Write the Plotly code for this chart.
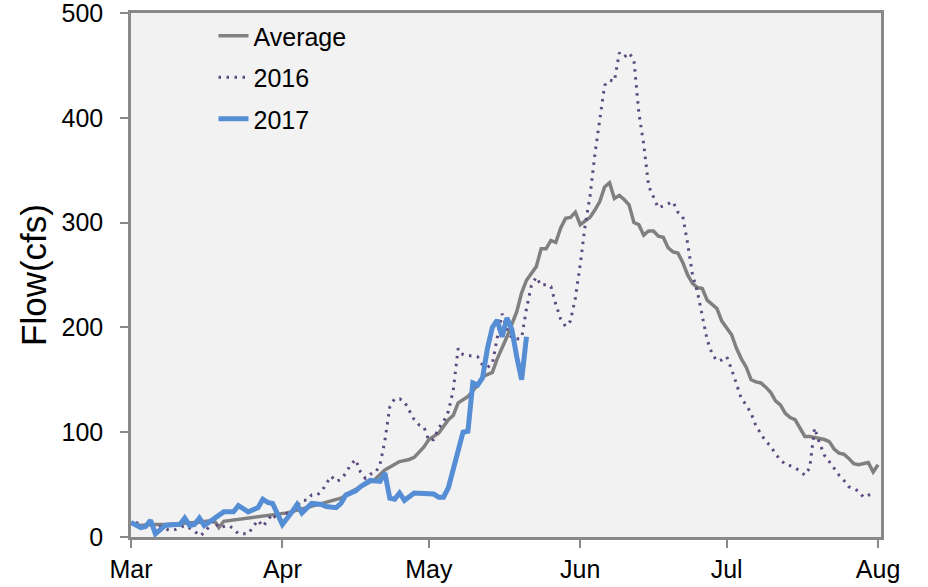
import pandas as pd
import plotly.graph_objects as go

# ---- data (day offset from 1 March, flow in cfs) ----
avg_days = [0, 2, 4, 7, 10, 14, 17, 18, 19, 22, 25, 28, 32, 36, 40, 43, 45, 48, 50, 52,
            55, 57, 58, 60, 61, 63, 65, 66, 67, 69, 71, 72, 74, 75, 77, 79, 80, 81, 83, 84,
            85, 86, 87, 88, 89, 90, 91, 92, 94, 95, 96, 97, 98, 99, 100, 101, 102, 103, 104, 105,
            106, 107, 108, 109, 110, 111, 112, 113, 114, 115, 116, 117, 118, 119, 120, 121, 122, 123, 124, 125,
            126, 127, 128, 129, 130, 131, 132, 133, 134, 135, 136, 137, 138, 139, 140, 141, 142, 143, 144, 145,
            146, 147, 148, 149, 150, 151, 152, 153]
avg_flow = [13, 11, 12, 12, 13, 14, 16, 9, 15, 17, 19, 21, 23, 28, 33, 37, 43, 50, 55, 64,
            72, 74, 76, 86, 93, 99, 112, 116, 128, 134, 145, 153, 157, 170, 191, 215, 233, 245, 258, 275,
            275, 283, 281, 295, 304, 305, 310, 298, 305, 312, 320, 334, 338, 323, 326, 322, 317, 300, 298, 288,
            292, 292, 287, 286, 276, 272, 271, 262, 250, 242, 238, 237, 226, 222, 218, 206, 199, 193, 180, 170,
            162, 150, 148, 147, 143, 138, 130, 126, 118, 114, 112, 104, 96, 96, 95, 94, 93, 91, 84, 80,
            79, 75, 70, 69, 70, 71, 62, 69]

y2016_days = [1, 3, 6, 8, 9, 11, 13, 14, 15, 16, 17, 18, 20, 21, 22, 24, 25, 26, 27, 28,
              29, 30, 32, 33, 35, 36, 37, 38, 39, 40, 41, 42, 43, 44, 45, 46, 47, 48, 49, 50,
              51, 52, 53, 54, 55, 56, 57, 58, 59, 60, 61, 62, 63, 64, 65, 66, 67, 68, 69, 70,
              71, 72, 73, 74, 75, 76, 77, 78, 79, 80, 81, 82, 83, 84, 85, 86, 87, 88, 89, 90,
              91, 92, 93, 94, 95, 96, 97, 98, 99, 100, 101, 102, 103, 104, 105, 106, 107, 108, 109, 110,
              111, 112, 113, 114, 115, 116, 117, 118, 119, 120, 121, 122, 123, 124, 125, 126, 127, 128, 129, 130,
              131, 132, 133, 134, 135, 136, 137, 138, 139, 140, 141, 142, 143, 144, 145, 146, 147, 148, 149, 150,
              151, 152]
y2016_flow = [14, 10, 10, 6, 7, 11, 6, 1, 4, 10, 16, 9, 11, 8, 3, 3, 9, 16, 10, 16,
              22, 16, 23, 24, 35, 35, 40, 40, 43, 51, 58, 53, 55, 61, 69, 74, 62, 56, 60, 61,
              69, 92, 124, 132, 132, 129, 120, 112, 107, 105, 92, 93, 104, 110, 120, 140, 180, 174, 173, 173,
              172, 164, 162, 165, 190, 213, 198, 190, 189, 190, 218, 240, 248, 240, 241, 239, 222, 208, 201, 206,
              228, 260, 297, 325, 365, 400, 431, 436, 435, 462, 458, 462, 455, 405, 375, 335, 325, 314, 316, 318,
              320, 310, 306, 280, 250, 234, 210, 188, 175, 168, 169, 172, 160, 145, 132, 126, 118, 106, 98, 91,
              87, 79, 74, 69, 68, 66, 63, 59, 66, 104, 90, 78, 72, 65, 59, 54, 48, 46, 44, 38,
              40, 41]

y2017_days = [0, 2, 3, 4, 5, 7, 9, 10, 11, 12, 13, 14, 15, 16, 18, 19, 21, 22, 24, 26,
              27, 28, 29, 31, 33, 34, 35, 37, 39, 40, 42, 43, 44, 46, 47, 49, 51, 52, 53, 54,
              55, 56, 58, 60, 62, 63, 64, 65, 66, 67, 68, 69, 70, 71, 72, 73, 74, 75, 76, 77,
              78, 79, 80, 81]
y2017_flow = [14, 9, 10, 16, 3, 11, 12, 12, 18, 11, 12, 18, 11, 14, 21, 24, 24, 30, 24, 28,
              36, 33, 32, 12, 24, 31, 23, 32, 31, 29, 28, 32, 40, 44, 48, 54, 53, 61, 37, 36,
              42, 35, 42, 42, 41, 38, 38, 47, 64, 83, 100, 101, 147, 145, 152, 180, 200, 207, 191, 209,
              198, 172, 150, 191]

series_names = ["Average", "2016", "2017"]
month_ticks = ["2017-03-01", "2017-04-01", "2017-05-01", "2017-06-01", "2017-07-01", "2017-08-01"]
month_labels = ["Mar", "Apr", "May", "Jun", "Jul", "Aug"]
y_ticks = [0, 100, 200, 300, 400, 500]

base = pd.Timestamp("2017-03-01")


def to_dates(days):
    return [base + pd.Timedelta(days=d) for d in days]


FONT = "Liberation Sans, Arial, sans-serif"
AXIS_GRAY = "#898989"

fig = go.Figure()
fig.add_trace(go.Scatter(x=to_dates(avg_days), y=avg_flow, name=series_names[0], mode="lines",
                         legendgroup="a", line=dict(color="#808080", width=3.5)))
fig.add_trace(go.Scatter(x=to_dates(y2016_days), y=y2016_flow, name=series_names[1], mode="lines",
                         legendgroup="b", line=dict(color="#5E4A80", width=3, dash="2.5px,5.5px")))
fig.add_trace(go.Scatter(x=to_dates(y2017_days), y=y2017_flow, name=series_names[2], mode="lines",
                         legendgroup="c", line=dict(color="#558ED5", width=5)))

fig.update_layout(
    width=928, height=587,
    margin=dict(l=131, r=47, t=13, b=50),
    paper_bgcolor="white",
    plot_bgcolor="#F2F2F2",
    font=dict(family=FONT, size=25, color="black"),
    showlegend=True,
    legend=dict(x=0.11, y=1.0, xanchor="left", yanchor="top",
                bgcolor="rgba(0,0,0,0)", font=dict(size=25),
                tracegroupgap=6, traceorder="grouped"),
    xaxis=dict(
        type="date", automargin=False,
        range=[base, base + pd.Timedelta(days=153.6)],
        tickmode="array", tickvals=month_ticks, ticktext=month_labels,
        ticks="outside", ticklen=8, tickwidth=1.5, tickcolor=AXIS_GRAY,
        showline=True, linecolor=AXIS_GRAY, linewidth=2.5, mirror=True,
        showgrid=False, zeroline=False,
        tickfont=dict(size=25), ticklabeloverflow="allow",
    ),
    yaxis=dict(
        range=[0, 500], automargin=False,
        tickmode="array", tickvals=y_ticks,
        ticks="outside", ticklen=8, tickwidth=1.5, tickcolor=AXIS_GRAY,
        showline=True, linecolor=AXIS_GRAY, linewidth=2.5, mirror=True,
        showgrid=False, zeroline=False,
        tickfont=dict(size=25), ticklabeloverflow="allow",
        ticklabelstandoff=12,
        title=dict(text="Flow(cfs)", font=dict(size=35), standoff=5),
    ),
)

fig.write_html("out.html", config={"displayModeBar": False},
               post_script="document.body.style.margin='0';")
